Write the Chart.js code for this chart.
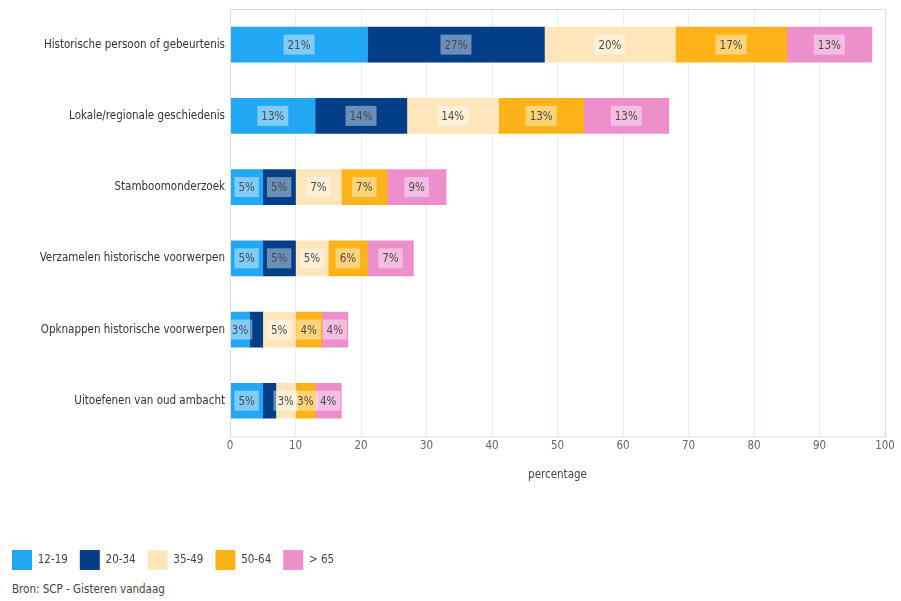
<!DOCTYPE html>
<html>
<head>
<meta charset="utf-8">
<script src="https://cdn.jsdelivr.net/npm/chart.js@4"></script>
<style>
  body { margin: 0; background: #fff; font-family: 'DejaVu Sans Condensed', sans-serif; }
  #wrap { position: relative; width: 901px; height: 580px; }
  #bron { position: absolute; left: 12px; top: 582px; font-size: 11.5px; color: #444; }
</style>
</head>
<body>
<div id="wrap"><canvas id="chart"></canvas></div>
<div id="bron">Bron: SCP - Gisteren vandaag</div>
<script>
// categorieën en waarden (percentages)
const categories = [
    "Historische persoon of gebeurtenis",
    "Lokale/regionale geschiedenis",
    "Stamboomonderzoek",
    "Verzamelen historische voorwerpen",
    "Opknappen historische voorwerpen",
    "Uitoefenen van oud ambacht"
];
const ageGroups = ["12-19", "20-34", "35-49", "50-64", "> 65"];
const age12_19 = [21, 13, 5, 5, 3, 5];
const age20_34 = [27, 14, 5, 5, 2, 2];
const age35_49 = [20, 14, 7, 5, 5, 3];
const age50_64 = [17, 13, 7, 6, 4, 3];
const age65plus = [13, 13, 9, 7, 4, 4];
const xTicks = [0, 10, 20, 30, 40, 50, 60, 70, 80, 90, 100];

const colors = ['#22a7f2', '#033f88', '#fde6bc', '#fcb317', '#ec8fcb'];
const FONT = "'DejaVu Sans Condensed', sans-serif";

const seriesValues = [age12_19, age20_34, age35_49, age50_64, age65plus];

// labels in a half transparent box on each segment
const segmentLabels = {
    id: 'segmentLabels',
    afterDatasetsDraw(chart) {
        const ctx = chart.ctx;
        ctx.save();
        ctx.font = "11.5px " + FONT;
        ctx.textAlign = 'center';
        ctx.textBaseline = 'middle';
        chart.data.datasets.forEach((ds, i) => {
            const meta = chart.getDatasetMeta(i);
            meta.data.forEach((bar, j) => {
                const v = ds.data[j];
                if (v < 3) return;
                const txt = v + "%";
                const cx = (bar.x + bar.base) / 2;
                const w = ctx.measureText(txt).width + 8;
                ctx.fillStyle = 'rgba(255,255,255,0.42)';
                ctx.fillRect(cx - w / 2, bar.y - 10, w, 20);
                ctx.fillStyle = '#4a4a4a';
                ctx.fillText(txt, cx, bar.y + 1);
            });
        });
        ctx.restore();
    }
};

const plotBorder = {
    id: 'plotBorder',
    afterDraw(chart) {
        const a = chart.chartArea;
        const ctx = chart.ctx;
        ctx.save();
        ctx.strokeStyle = '#dcdcdc';
        ctx.lineWidth = 1;
        ctx.strokeRect(a.left + 0.5, a.top + 0.5, a.right - a.left, a.bottom - a.top);
        ctx.restore();
    }
};

const ctx = document.getElementById('chart').getContext('2d');
new Chart(ctx, {
    type: 'bar',
    data: {
        labels: categories,
        datasets: ageGroups.map((g, i) => ({
            label: g,
            data: seriesValues[i],
            backgroundColor: colors[i],
            borderWidth: 0,
            barThickness: 35
        }))
    },
    options: {
        indexAxis: 'y',
        responsive: true,
        maintainAspectRatio: false,
        animation: false,
        layout: { padding: { top: 9, right: 16, left: 0, bottom: 0 } },
        scales: {
            x: {
                stacked: true,
                min: 0,
                max: 100,
                afterBuildTicks: s => { s.ticks = xTicks.map(v => ({ value: v })); },
                grid: { color: 'rgba(205,230,228,0.55)', drawTicks: false },
                border: { display: false },
                ticks: { color: '#666', font: { family: FONT, size: 11.5 }, padding: 3 },
                title: {
                    display: true,
                    text: 'percentage',
                    color: '#444',
                    font: { family: FONT, size: 11.5 },
                    padding: { top: 12, bottom: 56 }
                }
            },
            y: {
                stacked: true,
                afterFit: s => { s.width = 230; s.paddingTop = 0; s.paddingBottom = 0; },
                grid: { display: false, drawTicks: false },
                border: { display: false },
                ticks: { color: '#333', font: { family: FONT, size: 11.5 }, padding: 5 }
            }
        },
        plugins: {
            legend: {
                position: 'bottom',
                align: 'start',
                labels: {
                    boxWidth: 20,
                    boxHeight: 20,
                    padding: 12,
                    color: '#444',
                    font: { family: FONT, size: 11.5 }
                }
            },
            tooltip: { enabled: false }
        }
    },
    plugins: [segmentLabels, plotBorder]
});
</script>
</body>
</html>
